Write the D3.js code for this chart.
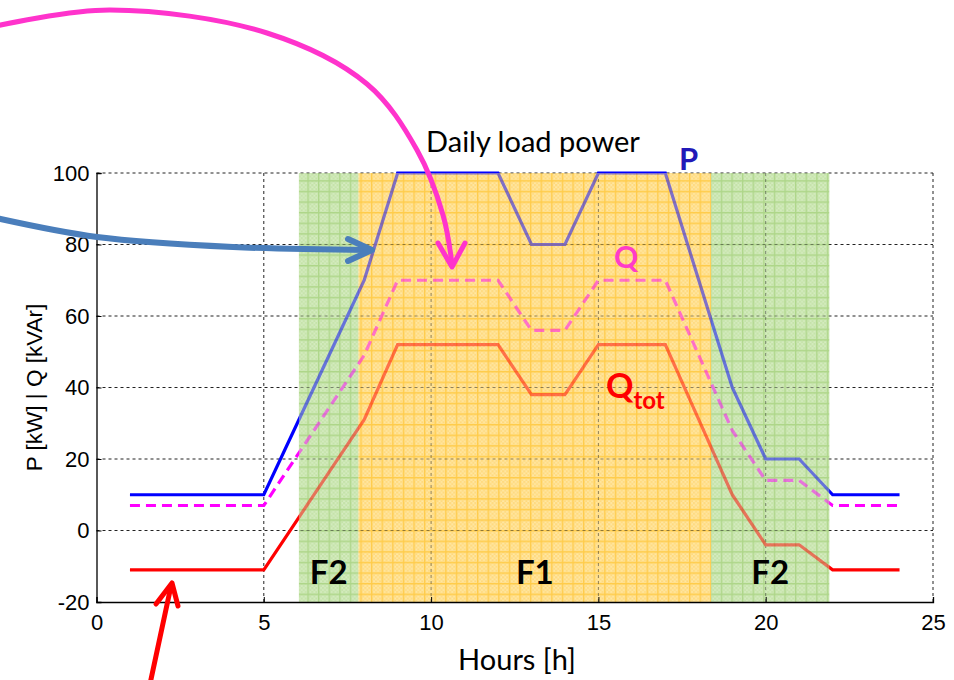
<!DOCTYPE html>
<html>
<head>
<meta charset="utf-8">
<script src="https://cdn.jsdelivr.net/npm/d3@7"></script>
<style>
  body { margin: 0; background: #fff; }
  svg { display: block; }
</style>
</head>
<body>
<svg id="chart" width="954" height="680"></svg>
<script>
// data
var hours   = [1, 5, 6, 7, 8, 9, 12, 13, 14, 15, 17, 18, 19, 20, 21, 22, 24];
var pLoad   = [10, 10, 30, 50, 70, 100, 100, 80, 80, 100, 100, 70, 40, 20, 20, 10, 10];
var qLoad   = [7, 7, 21, 35, 49, 70, 70, 56, 56, 70, 70, 49, 28, 14, 14, 7, 7];
var qTot    = [-11, -11, 3, 17, 31, 52, 52, 38, 38, 52, 52, 31, 10, -4, -4, -11, -11];
var xTicks  = [0, 5, 10, 15, 20, 25];
var yTicks  = [-20, 0, 20, 40, 60, 80, 100];
// tariff bands (hours)
var bandNames = ['F2', 'F1', 'F2'];
var bandStart = [6.05, 7.83, 18.37];
var bandEnd   = [7.83, 18.37, 21.9];

var svg = d3.select('#chart');
var x = d3.scaleLinear().domain([0, 25]).range([96.5, 933]);
var y = d3.scaleLinear().domain([-20, 100]).range([602, 173]);

var bands = bandNames.map(function(n, i){
  return {name: n, x0: bandStart[i], x1: bandEnd[i]};
});
var bandFill  = {F1: '#ffe8a6', F2: '#d6ecc2'};
var bandCheck = {F1: '#ffd87a', F2: '#c3e2a6'};
var bandLine  = {F1: '#ffcc4a', F2: '#aed689'};

// dithered grid patterns for the bands
var defs = svg.append('defs');
['F1', 'F2'].forEach(function(k){
  var c = defs.append('pattern')
    .attr('id', 'chk' + k)
    .attr('patternUnits', 'userSpaceOnUse')
    .attr('width', 4).attr('height', 4);
  c.append('rect').attr('width', 4).attr('height', 4).attr('fill', bandFill[k]);
  c.append('path').attr('d', 'M0,0h2v2h-2zM2,2h2v2h-2z').attr('fill', bandCheck[k]);
  var p = defs.append('pattern')
    .attr('id', 'pat' + k)
    .attr('patternUnits', 'userSpaceOnUse')
    .attr('width', 10.6).attr('height', 10.6);
  p.append('rect').attr('width', 10.6).attr('height', 10.6).attr('fill', 'url(#chk' + k + ')');
  p.append('path').attr('d', 'M0,0.7H10.6M0.7,0V10.6')
    .attr('stroke', bandLine[k]).attr('stroke-width', 1.3);
});

// solid band background
svg.append('g').selectAll('rect').data(bands).enter()
  .append('rect')
  .attr('x', function(d){ return x(d.x0); })
  .attr('width', function(d){ return x(d.x1) - x(d.x0); })
  .attr('y', y(100)).attr('height', y(-20) - y(100))
  .attr('fill', function(d){ return 'url(#pat' + d.name + ')'; });

// grid
var grid = svg.append('g').attr('stroke', '#222').attr('stroke-width', 1)
  .attr('stroke-dasharray', '3,3');
grid.selectAll('.gx').data(xTicks.slice(1)).enter().append('line')
  .attr('x1', function(d){ return x(d); }).attr('x2', function(d){ return x(d); })
  .attr('y1', y(-20)).attr('y2', y(100));
grid.selectAll('.gy').data(yTicks.slice(1)).enter().append('line')
  .attr('y1', function(d){ return y(d); }).attr('y2', function(d){ return y(d); })
  .attr('x1', x(0)).attr('x2', x(25));

// series
var series = [
  {vals: qTot, color: '#ff0000', dash: null},
  {vals: qLoad, color: '#ff00ff', dash: '10,6'},
  {vals: pLoad, color: '#0000ff', dash: null}
];
var line = d3.line()
  .x(function(d){ return x(d[0]); })
  .y(function(d){ return y(d[1]); });
svg.append('g').selectAll('path').data(series).enter()
  .append('path')
  .attr('d', function(s){ return line(d3.zip(hours, s.vals)); })
  .attr('fill', 'none')
  .attr('stroke', function(s){ return s.color; })
  .attr('stroke-width', 3.2)
  .attr('stroke-dasharray', function(s){ return s.dash; });

// translucent band overlay on top of the lines
svg.append('g').selectAll('rect').data(bands).enter()
  .append('rect')
  .attr('x', function(d){ return x(d.x0); })
  .attr('width', function(d){ return x(d.x1) - x(d.x0); })
  .attr('y', y(100)).attr('height', y(-20) - y(100))
  .attr('fill', function(d){ return 'url(#pat' + d.name + ')'; })
  .attr('opacity', 0.5);

// axes (matlab style, ticks inside)
var axFont = '"Liberation Sans", Arial, sans-serif';
var fmt = function(d){ return String(d); };
var xAxis = svg.append('g').attr('transform', 'translate(0,' + y(-20) + ')')
  .call(d3.axisBottom(x).tickValues(xTicks).tickFormat(fmt).tickSize(-5).tickPadding(12));
var yAxis = svg.append('g').attr('transform', 'translate(' + x(0) + ',0)')
  .call(d3.axisLeft(y).tickValues(yTicks).tickFormat(fmt).tickSize(-5).tickPadding(7));
[xAxis, yAxis].forEach(function(a){
  a.select('.domain').attr('stroke', '#000').attr('stroke-width', 1.3);
  a.selectAll('.tick line').attr('stroke', '#000');
  a.selectAll('text').attr('font-family', axFont).attr('font-size', 22).attr('fill', '#000');
});
xAxis.selectAll('text').attr('dy', '0.71em');

// band labels
svg.append('g').selectAll('text').data(bands).enter()
  .append('text')
  .attr('x', function(d){ return (x(d.x0) + x(d.x1)) / 2; })
  .attr('y', 584)
  .attr('text-anchor', 'middle')
  .attr('font-family', 'Lato, "Open Sans", sans-serif')
  .attr('font-weight', 'bold').attr('font-size', 33)
  .attr('fill', '#000')
  .text(function(d){ return d.name; });

// titles
var txtFont = 'Lato, "Open Sans", sans-serif';
svg.append('text').attr('x', 533).attr('y', 152).attr('text-anchor', 'middle')
  .attr('font-family', txtFont).attr('font-size', 29).text('Daily load power');
svg.append('text').attr('x', 517).attr('y', 670).attr('text-anchor', 'middle')
  .attr('font-family', txtFont).attr('font-size', 29).text('Hours [h]');
svg.append('text')
  .attr('transform', 'translate(42,' + ((y(100) + y(-20)) / 2) + ') rotate(-90)')
  .attr('text-anchor', 'middle')
  .attr('font-family', axFont).attr('font-size', 22.5)
  .text('P [kW] | Q [kVAr]');

// series labels
svg.append('text').attr('x', 679).attr('y', 170)
  .attr('font-family', txtFont).attr('font-weight', 'bold').attr('font-size', 31)
  .attr('fill', '#2219b8').text('P');
svg.append('text').attr('x', 614).attr('y', 268)
  .attr('font-family', txtFont).attr('font-weight', 'bold').attr('font-size', 30)
  .attr('fill', '#ff3cc8').text('Q');
var qt = svg.append('text').attr('x', 606).attr('y', 398)
  .attr('font-family', txtFont).attr('font-weight', 'bold').attr('font-size', 34)
  .attr('fill', '#ff0000');
qt.append('tspan').text('Q');
qt.append('tspan').attr('font-size', 24).attr('dy', 11).text('tot');

// annotation arrows
var curve = d3.line().curve(d3.curveCatmullRom.alpha(0.5));
var arrows = [
  {pts: [[-4, 26], [110, 10], [267, 33], [367, 84], [417, 150], [443, 215], [452, 264]],
   head: [[438, 243], [452, 267], [465, 243]], color: '#ff33cc', w: 5},
  {pts: [[-4, 218], [97, 237], [233, 247], [369, 250]],
   head: [[348, 239], [372, 250], [348, 261]], color: '#4a7ebb', w: 6},
  {pts: [[150, 684], [171, 586]],
   head: [[156, 604], [172, 583], [178, 606]], color: '#ff0000', w: 5}
];
var ag = svg.append('g').attr('fill', 'none')
  .attr('stroke-linecap', 'round').attr('stroke-linejoin', 'round');
ag.selectAll('.shaft').data(arrows).enter().append('path')
  .attr('d', function(a){ return curve(a.pts); })
  .attr('stroke', function(a){ return a.color; })
  .attr('stroke-width', function(a){ return a.w; });
ag.selectAll('.head').data(arrows).enter().append('path')
  .attr('d', function(a){ return d3.line()(a.head); })
  .attr('stroke', function(a){ return a.color; })
  .attr('stroke-width', function(a){ return a.w; });
</script>
</body>
</html>
